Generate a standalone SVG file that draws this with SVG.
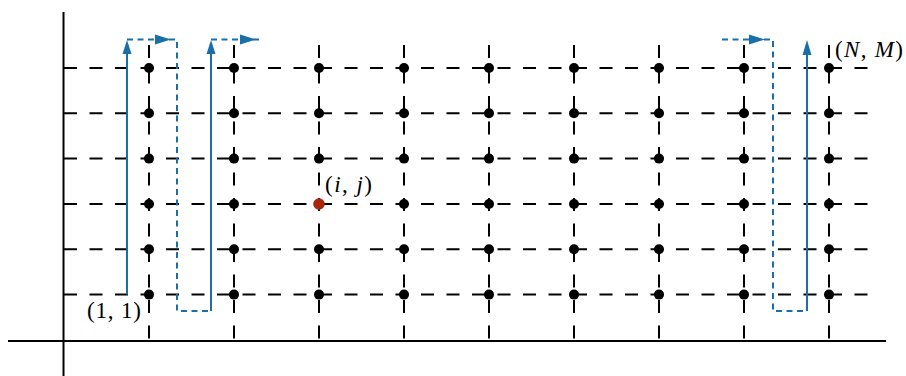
<svg xmlns="http://www.w3.org/2000/svg" width="906" height="376" viewBox="0 0 906 376">
<style>
.ax{stroke:#000;stroke-width:2;fill:none}
.gh{stroke:#000;stroke-width:2;stroke-dasharray:13 12.5;fill:none}
.gv{stroke:#000;stroke-width:2;stroke-dasharray:13 12.5;fill:none}
.dot{fill:#000}
.red{fill:#a8260f}
.bs{stroke:#1a6fab;stroke-width:2;fill:none}
.bd{stroke:#1a6fab;stroke-width:2;fill:none;stroke-dasharray:6 4.5}
.ah{fill:#1a6fab}
.lbl{font-family:"Liberation Serif","Times New Roman",serif;font-size:23px;fill:#000}
.it{font-style:italic}
</style>
<rect width="906" height="376" fill="#fff"/>
<g id="axes">
<line class="ax" x1="63.5" y1="12" x2="63.5" y2="376"/>
<line class="ax" x1="8" y1="341" x2="886" y2="341"/>
</g>
<g id="grid">
<line class="gh" x1="64" y1="68" x2="868" y2="68"/>
<line class="gh" x1="64" y1="113.3" x2="868" y2="113.3"/>
<line class="gh" x1="64" y1="158.6" x2="868" y2="158.6"/>
<line class="gh" x1="64" y1="204" x2="868" y2="204"/>
<line class="gh" x1="64" y1="249.3" x2="868" y2="249.3"/>
<line class="gh" x1="64" y1="294.6" x2="868" y2="294.6"/>
<line class="gv" x1="149" y1="45" x2="149" y2="341"/>
<line class="gv" x1="234" y1="45" x2="234" y2="341"/>
<line class="gv" x1="319" y1="45" x2="319" y2="341"/>
<line class="gv" x1="404" y1="45" x2="404" y2="341"/>
<line class="gv" x1="489" y1="45" x2="489" y2="341"/>
<line class="gv" x1="574" y1="45" x2="574" y2="341"/>
<line class="gv" x1="659" y1="45" x2="659" y2="341"/>
<line class="gv" x1="744" y1="45" x2="744" y2="341"/>
<line class="gv" x1="829" y1="45" x2="829" y2="341"/>
</g>
<g id="connectors">
<line class="bs" x1="127" y1="294.6" x2="127" y2="52"/>
<polygon class="ah" points="127,40 122.5,54 131.5,54"/>
<path class="bd" d="M127,39.5 H177 V311 H211"/>
<polygon class="ah" points="171,39.5 155,34.5 155,44.5"/>
<line class="bs" x1="211" y1="311" x2="211" y2="52"/>
<polygon class="ah" points="211,40 206.5,54 215.5,54"/>
<path class="bd" d="M211,39.5 H262"/>
<polygon class="ah" points="256,39.5 240,34.5 240,44.5"/>
<path class="bd" d="M722,39.5 H773 V311 H807"/>
<polygon class="ah" points="765,39.5 749,34.5 749,44.5"/>
<line class="bs" x1="807" y1="311" x2="807" y2="53"/>
<polygon class="ah" points="807,40 802.5,55 811.5,55"/>
</g>
<g id="nodes">
<g id="row1"><circle class="dot" cx="149" cy="294.6" r="5"/><circle class="dot" cx="234" cy="294.6" r="5"/><circle class="dot" cx="319" cy="294.6" r="5"/><circle class="dot" cx="404" cy="294.6" r="5"/><circle class="dot" cx="489" cy="294.6" r="5"/><circle class="dot" cx="574" cy="294.6" r="5"/><circle class="dot" cx="659" cy="294.6" r="5"/><circle class="dot" cx="744" cy="294.6" r="5"/><circle class="dot" cx="829" cy="294.6" r="5"/></g>
<g id="row2"><circle class="dot" cx="149" cy="249.3" r="5"/><circle class="dot" cx="234" cy="249.3" r="5"/><circle class="dot" cx="319" cy="249.3" r="5"/><circle class="dot" cx="404" cy="249.3" r="5"/><circle class="dot" cx="489" cy="249.3" r="5"/><circle class="dot" cx="574" cy="249.3" r="5"/><circle class="dot" cx="659" cy="249.3" r="5"/><circle class="dot" cx="744" cy="249.3" r="5"/><circle class="dot" cx="829" cy="249.3" r="5"/></g>
<g id="row3"><circle class="dot" cx="149" cy="204" r="5"/><circle class="dot" cx="234" cy="204" r="5"/><circle class="dot" cx="404" cy="204" r="5"/><circle class="dot" cx="489" cy="204" r="5"/><circle class="dot" cx="574" cy="204" r="5"/><circle class="dot" cx="659" cy="204" r="5"/><circle class="dot" cx="744" cy="204" r="5"/><circle class="dot" cx="829" cy="204" r="5"/></g>
<g id="row4"><circle class="dot" cx="149" cy="158.6" r="5"/><circle class="dot" cx="234" cy="158.6" r="5"/><circle class="dot" cx="319" cy="158.6" r="5"/><circle class="dot" cx="404" cy="158.6" r="5"/><circle class="dot" cx="489" cy="158.6" r="5"/><circle class="dot" cx="574" cy="158.6" r="5"/><circle class="dot" cx="659" cy="158.6" r="5"/><circle class="dot" cx="744" cy="158.6" r="5"/><circle class="dot" cx="829" cy="158.6" r="5"/></g>
<g id="row5"><circle class="dot" cx="149" cy="113.3" r="5"/><circle class="dot" cx="234" cy="113.3" r="5"/><circle class="dot" cx="319" cy="113.3" r="5"/><circle class="dot" cx="404" cy="113.3" r="5"/><circle class="dot" cx="489" cy="113.3" r="5"/><circle class="dot" cx="574" cy="113.3" r="5"/><circle class="dot" cx="659" cy="113.3" r="5"/><circle class="dot" cx="744" cy="113.3" r="5"/><circle class="dot" cx="829" cy="113.3" r="5"/></g>
<g id="row6"><circle class="dot" cx="149" cy="68" r="5"/><circle class="dot" cx="234" cy="68" r="5"/><circle class="dot" cx="319" cy="68" r="5"/><circle class="dot" cx="404" cy="68" r="5"/><circle class="dot" cx="489" cy="68" r="5"/><circle class="dot" cx="574" cy="68" r="5"/><circle class="dot" cx="659" cy="68" r="5"/><circle class="dot" cx="744" cy="68" r="5"/><circle class="dot" cx="829" cy="68" r="5"/></g>
<g id="node-ij"><circle class="red" cx="319" cy="204" r="5.8"/></g>
</g>
<g id="labels">
<text class="lbl" x="87" y="318" textLength="54" lengthAdjust="spacing">(1, 1)</text>
<text class="lbl" x="325" y="192" textLength="47" lengthAdjust="spacing">(<tspan class="it">i</tspan>, <tspan class="it">j</tspan>)</text>
<text class="lbl" x="835" y="57" textLength="68" lengthAdjust="spacing">(<tspan class="it">N</tspan>, <tspan class="it">M</tspan>)</text>
</g>
</svg>
